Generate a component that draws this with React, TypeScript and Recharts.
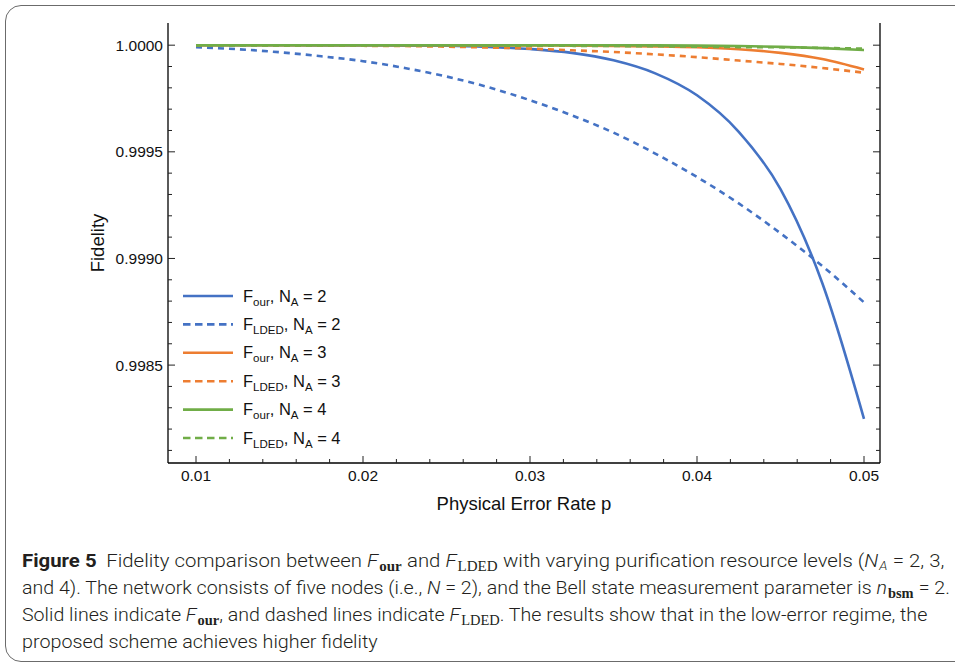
import React, { useLayoutEffect, useRef, useState } from 'react';
import { LineChart, Line, XAxis, YAxis } from 'recharts';

// physical error rate p (x axis)
const pValues = [0.01, 0.0125, 0.015, 0.0175, 0.02, 0.0225, 0.025, 0.0275, 0.03, 0.0325, 0.035, 0.0375, 0.04, 0.0425, 0.045, 0.0475, 0.05];

// fidelity values
const fOurNA2 = [1.0, 1.0, 1.0, 0.999999, 0.999999, 0.999998, 0.999997, 0.999992, 0.999982, 0.999964, 0.999929, 0.999868, 0.999765, 0.999594, 0.999325, 0.998885, 0.998248];
const fLdedNA2 = [0.99999, 0.999981, 0.999967, 0.999948, 0.999925, 0.999893, 0.999853, 0.999803, 0.999742, 0.999671, 0.99959, 0.999492, 0.999382, 0.999258, 0.999118, 0.998965, 0.998794];
const fOurNA3 = [1.0, 1.0, 1.0, 1.0, 1.0, 1.0, 1.0, 0.999999, 0.999999, 0.999998, 0.999996, 0.999994, 0.99999, 0.999981, 0.999964, 0.999935, 0.999886];
const fLdedNA3 = [1.0, 0.9999995, 0.999999, 0.999998, 0.999997, 0.999996, 0.999993, 0.999989, 0.999984, 0.999976, 0.999968, 0.999957, 0.999944, 0.999928, 0.999912, 0.999893, 0.999871];
const fOurNA4 = [1.0, 1.0, 1.0, 1.0, 1.0, 1.0, 1.0, 1.0, 1.0, 1.0, 1.0, 0.999999, 0.999998, 0.999996, 0.999992, 0.999986, 0.999977];
const fLdedNA4 = [0.999999, 0.999999, 0.999999, 0.999999, 0.999999, 0.999999, 0.999999, 0.999998, 0.999998, 0.999997, 0.999996, 0.999995, 0.999993, 0.999991, 0.99999, 0.999987, 0.999984];

// ticks
const xTicks = [0.01, 0.012, 0.014, 0.016, 0.018, 0.02, 0.022, 0.024, 0.026, 0.028, 0.03, 0.032, 0.034, 0.036, 0.038, 0.04, 0.042, 0.044, 0.046, 0.048, 0.05];
const xMajorTicks = [0.01, 0.02, 0.03, 0.04, 0.05];
const yTicks = [0.9981, 0.9982, 0.9983, 0.9984, 0.9985, 0.9986, 0.9987, 0.9988, 0.9989, 0.999, 0.9991, 0.9992, 0.9993, 0.9994, 0.9995, 0.9996, 0.9997, 0.9998, 0.9999, 1.0];
const yMajorTicks = [0.9985, 0.999, 0.9995, 1.0];

const xDomain = [0.008323, 0.050958];
const yDomain = [0.998041, 1.000104];

const BLUE = '#4472C4';
const ORANGE = '#ED7D31';
const GREEN = '#70AD47';
const FONT = '"Liberation Sans", Arial, sans-serif';

const series = [
  { key: 'our2', values: fOurNA2, sub: 'our', na: '2', color: BLUE, dashed: false },
  { key: 'lded2', values: fLdedNA2, sub: 'LDED', na: '2', color: BLUE, dashed: true },
  { key: 'our3', values: fOurNA3, sub: 'our', na: '3', color: ORANGE, dashed: false },
  { key: 'lded3', values: fLdedNA3, sub: 'LDED', na: '3', color: ORANGE, dashed: true },
  { key: 'our4', values: fOurNA4, sub: 'our', na: '4', color: GREEN, dashed: false },
  { key: 'lded4', values: fLdedNA4, sub: 'LDED', na: '4', color: GREEN, dashed: true },
];

const data = pValues.map((p, i) => {
  const row: Record<string, number> = { p };
  series.forEach((s) => { row[s.key] = s.values[i]; });
  return row;
});

const isMajor = (v: number, majors: number[]) => majors.some((m) => Math.abs(m - v) < 1e-9);

const BottomTick = (props: any) => {
  const { x, y, payload } = props;
  const major = isMajor(payload.value, xMajorTicks);
  return (
    <g>
      <line x1={x} y1={y} x2={x} y2={y - (major ? 7 : 4)} stroke="#222" strokeWidth={1} />
      {major && (
        <text x={x} y={y + 18} textAnchor="middle" fontSize={15.5} fontFamily={FONT} fill="#111">
          {payload.value.toFixed(2)}
        </text>
      )}
    </g>
  );
};

const TopTick = (props: any) => {
  const { x, y, payload } = props;
  const major = isMajor(payload.value, xMajorTicks);
  return <line x1={x} y1={y} x2={x} y2={y + (major ? 7 : 4)} stroke="#222" strokeWidth={1} />;
};

const LeftTick = (props: any) => {
  const { x, y, payload } = props;
  const major = isMajor(payload.value, yMajorTicks);
  return (
    <g>
      <line x1={x} y1={y} x2={x + (major ? 7 : 4)} y2={y} stroke="#222" strokeWidth={1} />
      {major && (
        <text x={x - 5} y={y + 5.5} textAnchor="end" fontSize={15.5} fontFamily={FONT} fill="#111">
          {payload.value.toFixed(4)}
        </text>
      )}
    </g>
  );
};

const RightTick = (props: any) => {
  const { x, y, payload } = props;
  const major = isMajor(payload.value, yMajorTicks);
  return <line x1={x} y1={y} x2={x - (major ? 7 : 4)} y2={y} stroke="#222" strokeWidth={1} />;
};

const SERIF = '"Liberation Serif", "DejaVu Serif", serif';
const CAP_FONT = 'Roboto, "Noto Sans", sans-serif';

const Sub = ({ children, bold }: { children: React.ReactNode; bold?: boolean }) => (
  <tspan fontFamily={SERIF} fontWeight={bold ? 700 : 400} fontSize={14} dx={1} dy={4}>{children}</tspan>
);

// squeeze a caption line horizontally so that it spans the same width as the reference
const CaptionLine = ({ y, width, children }: { y: number; width: number; children: React.ReactNode }) => {
  const ref = useRef<SVGTextElement>(null);
  const [scale, setScale] = useState(1);
  useLayoutEffect(() => {
    if (ref.current) {
      const w = ref.current.getComputedTextLength();
      if (w > 0) setScale(width / w);
    }
  }, [width]);
  return (
    <text ref={ref} x={0} y={0} transform={`translate(22 ${y}) scale(${scale} 1)`}>
      {children}
    </text>
  );
};

const Overlay = () => (
  <svg width={955} height={664} style={{ position: 'absolute', left: 0, top: 0 }}>
    {/* legend */}
    {series.map((s, i) => {
      const cy = 296 + i * 28.4;
      return (
        <g key={s.key}>
          <line x1={183} x2={233} y1={cy} y2={cy} stroke={s.color} strokeWidth={2.6} strokeDasharray={s.dashed ? '7.5 4.5' : undefined} />
          <text x={243} y={cy + 5.5} fontSize={16.5} fontFamily={FONT} fill="#111">
            <tspan>F</tspan>
            <tspan fontSize={11.5} dy={4}>{s.sub}</tspan>
            <tspan dy={-4}>, N</tspan>
            <tspan fontSize={11.5} dy={4}>A</tspan>
            <tspan dy={-4}>{` = ${s.na}`}</tspan>
          </text>
        </g>
      );
    })}

    {/* caption */}
    <g fontFamily={CAP_FONT} fontSize={19} fontWeight={300} fill="#231f20">
      <CaptionLine y={567} width={894}>
        <tspan fontWeight={700}>Figure 5</tspan>
        <tspan dx={9}>Fidelity comparison between </tspan>
        <tspan fontStyle="italic">F</tspan>
        <Sub bold>our</Sub>
        <tspan dx={5} dy={-4}>and </tspan>
        <tspan fontStyle="italic">F</tspan>
        <Sub>LDED</Sub>
        <tspan dx={5} dy={-4}>with varying purification resource levels (</tspan>
        <tspan fontStyle="italic">N</tspan>
        <tspan fontStyle="italic" fontSize={12.5} dx={1} dy={3}>A</tspan>
        <tspan dx={5} dy={-3}>= 2, 3,</tspan>
      </CaptionLine>
      <CaptionLine y={594} width={922}>
        <tspan>{'and 4). The network consists of five nodes (i.e., '}</tspan>
        <tspan fontStyle="italic">N</tspan>
        <tspan>{' = 2), and the Bell state measurement parameter is '}</tspan>
        <tspan fontStyle="italic">n</tspan>
        <Sub bold>bsm</Sub>
        <tspan dx={5} dy={-4}>= 2.</tspan>
      </CaptionLine>
      <CaptionLine y={621} width={904}>
        <tspan>{'Solid lines indicate '}</tspan>
        <tspan fontStyle="italic">F</tspan>
        <Sub bold>our</Sub>
        <tspan dy={-4}>{', and dashed lines indicate '}</tspan>
        <tspan fontStyle="italic">F</tspan>
        <Sub>LDED</Sub>
        <tspan dy={-4}>{'. The results show that in the low-error regime, the'}</tspan>
      </CaptionLine>
      <CaptionLine y={648} width={356}>
        <tspan>proposed scheme achieves higher fidelity</tspan>
      </CaptionLine>
    </g>
  </svg>
);

export default function App() {
  return (
    <div style={{ position: 'absolute', left: 0, top: 0, width: 955, height: 664, background: '#fff', overflow: 'hidden' }}>
      <div
        style={{
          position: 'absolute', left: 5, top: 5, width: 1000, height: 657,
          border: '1.5px solid #6b6b6b', borderRadius: 16, boxSizing: 'border-box',
        }}
      />
      <div style={{ position: 'absolute', left: 0, top: 0 }}>
        <LineChart width={955} height={530} data={data} margin={{ top: 23, right: 0, bottom: 0, left: 0 }}>
          <XAxis
            dataKey="p" type="number" domain={xDomain} allowDataOverflow ticks={xTicks} interval={0}
            tick={BottomTick} tickLine={false} tickSize={0} tickMargin={0} height={67}
            axisLine={{ stroke: '#000', strokeWidth: 1.3 }}
            label={{ value: 'Physical Error Rate p', position: 'center', dy: 7, fontSize: 18.5, fontFamily: FONT, fill: '#111' }}
          />
          <XAxis
            xAxisId="top" orientation="top" dataKey="p" type="number" domain={xDomain} allowDataOverflow
            ticks={xTicks} interval={0} tick={TopTick} tickLine={false} tickSize={0} tickMargin={0} height={0}
            axisLine={{ stroke: '#000', strokeWidth: 1.3 }}
          />
          <YAxis
            type="number" domain={yDomain} allowDataOverflow ticks={yTicks} interval={0}
            tick={LeftTick} tickLine={false} tickSize={0} tickMargin={0} width={168}
            axisLine={{ stroke: '#000', strokeWidth: 1.3 }}
            label={{ value: 'Fidelity', angle: -90, position: 'center', dx: 13, fontSize: 18.5, fontFamily: FONT, fill: '#111' }}
          />
          <YAxis
            yAxisId="right" orientation="right" type="number" domain={yDomain} allowDataOverflow ticks={yTicks}
            interval={0} tick={RightTick} tickLine={false} tickSize={0} tickMargin={0} width={75}
            axisLine={{ stroke: '#000', strokeWidth: 1.3 }}
          />
          {series.map((s) => (
            <Line
              key={s.key}
              dataKey={s.key}
              type="monotone"
              stroke={s.color}
              strokeWidth={2.6}
              strokeDasharray={s.dashed ? '6 5' : undefined}
              dot={false}
              activeDot={false}
              isAnimationActive={false}
            />
          ))}
        </LineChart>
      </div>
      <Overlay />
    </div>
  );
}
